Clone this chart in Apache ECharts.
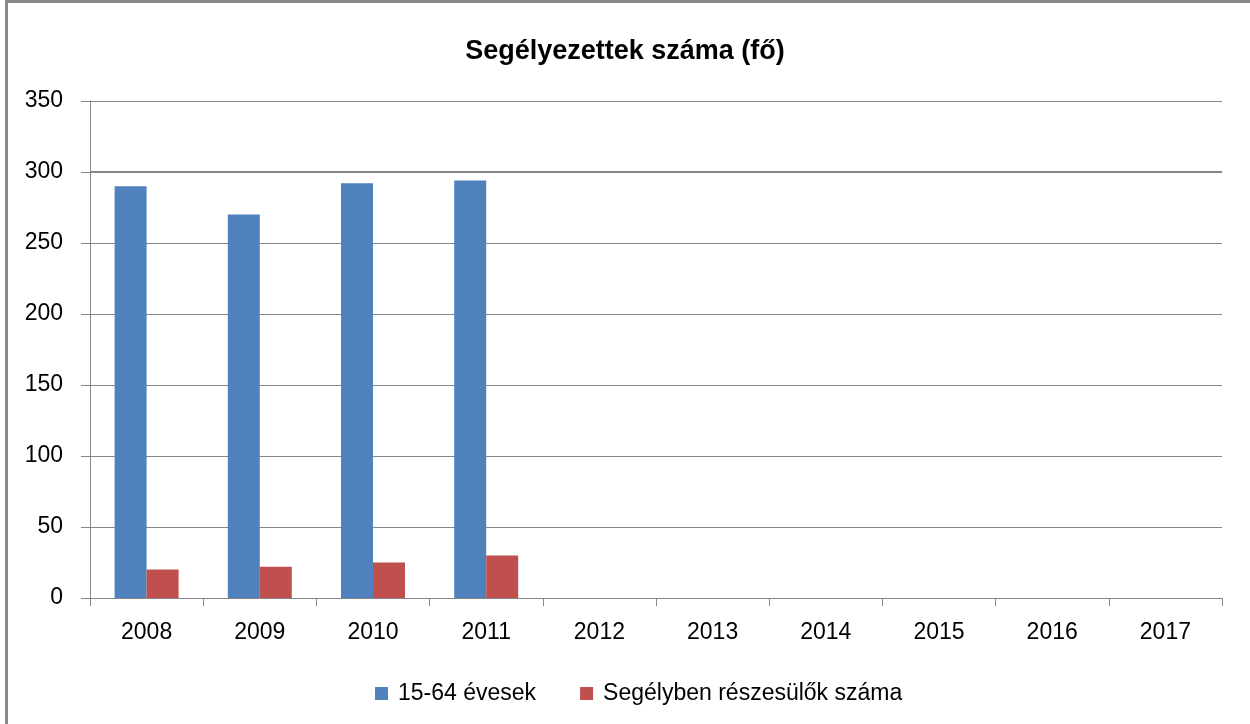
<!DOCTYPE html>
<html>
<head>
<meta charset="utf-8">
<script src="https://cdn.jsdelivr.net/npm/echarts@6/dist/echarts.min.js"></script>
<style>
  html, body { margin: 0; padding: 0; background: #fff; }
  #chart { width: 1250px; height: 724px; }
</style>
</head>
<body>
<div id="chart"></div>
<script>
// years on the x axis
var years = ["2008", "2009", "2010", "2011", "2012", "2013", "2014", "2015", "2016", "2017"];
// 15-64 évesek
var agedValues = [290, 270, 292, 294, null, null, null, null, null, null];
// Segélyben részesülők száma
var aidValues = [20, 22, 25, 30, null, null, null, null, null, null];
var seriesNames = ["15-64 évesek", "Segélyben részesülők száma"];

var chart = echarts.init(document.getElementById("chart"));
var axisGray = "#868686";
var font = "'Liberation Sans', Arial, sans-serif";

chart.setOption({
  animation: false,
  backgroundColor: "#fff",
  graphic: [
    {
      type: "rect",
      shape: { x: 6.5, y: 1.5, width: 1260, height: 740 },
      style: { fill: "none", stroke: "#878787", lineWidth: 3 },
      silent: true
    }
  ],
  title: {
    text: "Segélyezettek száma (fő)",
    left: "center",
    top: 33,
    textStyle: { fontFamily: font, fontSize: 27, fontWeight: "bold", color: "#000" }
  },
  legend: {
    top: 677,
    left: 370,
    itemWidth: 13,
    itemHeight: 13,
    itemGap: 44,
    icon: "rect",
    textStyle: { fontFamily: font, fontSize: 23, color: "#000", padding: [0, 0, 0, 5] },
    data: seriesNames
  },
  grid: { left: 90, right: 28, top: 101, bottom: 126 },
  xAxis: {
    type: "category",
    data: years,
    axisLine: { lineStyle: { color: axisGray, width: 1 } },
    axisTick: { show: true, length: 8, lineStyle: { color: axisGray } },
    axisLabel: { fontFamily: font, fontSize: 23, color: "#000", margin: 23 }
  },
  yAxis: {
    type: "value",
    min: 0,
    max: 350,
    interval: 50,
    axisLine: { show: true, lineStyle: { color: axisGray, width: 1 } },
    axisTick: { show: true, length: 9, lineStyle: { color: axisGray } },
    axisLabel: { fontFamily: font, fontSize: 23, color: "#000", margin: 27 },
    splitLine: { show: true, lineStyle: { color: axisGray, width: 1 } }
  },
  series: [
    {
      name: seriesNames[0],
      type: "bar",
      data: agedValues,
      barWidth: 32,
      barGap: "0%",
      itemStyle: { color: "#4F81BD" },
      markLine: {
        silent: true,
        symbol: "none",
        label: { show: false },
        lineStyle: { color: axisGray, width: 2, type: "solid" },
        data: [{ yAxis: 300 }]
      }
    },
    {
      name: seriesNames[1],
      type: "bar",
      data: aidValues,
      barWidth: 32,
      itemStyle: { color: "#C0504D" }
    }
  ]
});
</script>
</body>
</html>
